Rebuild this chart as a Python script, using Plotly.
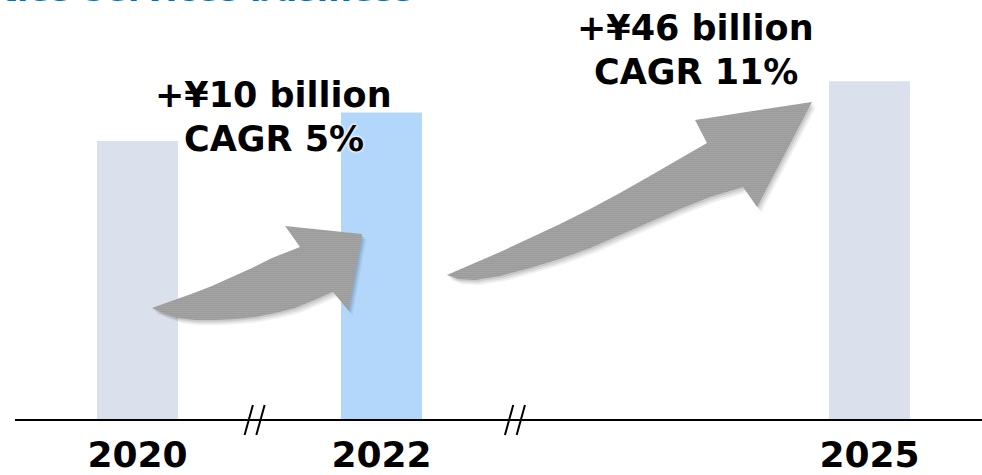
import plotly.graph_objects as go

# ---- data -------------------------------------------------------------
years = ["2020", "2022", "2025"]
slot = [0, 1, 3]                 # horizontal slot of each year (axis is broken)
revenue = [98, 108, 119]         # bar heights
bar_colors = ["#DAE1EC", "#B3D7FB", "#DAE1EC"]

growth_labels = [("+¥10 billion", "CAGR 5%"), ("+¥46 billion", "CAGR 11%")]

# curved arrow outlines (x in slots, y in bar units)
arrow1_x = [0.059, 0.141, 0.223, 0.305, 0.387, 0.469, 0.551, 0.666, 0.605, 0.920, 0.863,
            0.801, 0.727, 0.645, 0.564, 0.482, 0.400, 0.318, 0.236, 0.166, 0.104, 0.059]
arrow1_y = [39.3, 41.8, 44.3, 47.1, 50.2, 53.4, 56.9, 60.8, 68.1, 65.3, 38.6,
            45.0, 42.2, 39.3, 37.6, 36.2, 35.5, 35.1, 35.1, 35.8, 37.6, 39.3]
arrow2_x = [1.268, 1.363, 1.486, 1.609, 1.732, 1.855, 1.977, 2.100, 2.223, 2.334, 2.285, 2.764,
            2.539, 2.482, 2.346, 2.223, 2.100, 1.977, 1.855, 1.732, 1.609, 1.486, 1.383, 1.314, 1.268]
arrow2_y = [50.9, 54.4, 59.0, 63.9, 68.8, 74.1, 79.7, 85.7, 91.7, 97.3, 105.4, 111.7,
            74.8, 81.8, 78.3, 74.1, 69.5, 65.0, 60.4, 56.6, 53.4, 50.6, 49.2, 49.5, 50.9]

FONT = "DejaVu Sans"
X_RANGE = [-0.5635, 3.4611]
Y_RANGE = [-3.51, 147.5]

fig = go.Figure()

fig.add_trace(go.Bar(
    x=slot, y=revenue, width=0.332,
    marker=dict(color=bar_colors, line=dict(width=0)),
    hoverinfo="skip", showlegend=False,
))

# soft shadows, then the hatched arrows
for ax, ay in [(arrow1_x, arrow1_y), (arrow2_x, arrow2_y)]:
    for dx, dy, a in [(0.018, -1.8, 0.06), (0.012, -1.2, 0.08), (0.006, -0.6, 0.09)]:
        fig.add_trace(go.Scatter(
            x=[v + dx for v in ax], y=[v + dy for v in ay],
            mode="lines", fill="toself", line=dict(width=0),
            fillcolor=f"rgba(0,0,0,{a})", hoverinfo="skip", showlegend=False,
        ))
    fig.add_trace(go.Scatter(
        x=ax, y=ay, mode="lines", fill="toself", line=dict(width=0),
        fillcolor="#9a9a9a",
        fillpattern=dict(shape=".", size=2, solidity=0.6, fgcolor="#363636", bgcolor="#c4c4c4"),
        hoverinfo="skip", showlegend=False,
    ))

# baseline with break marks
shapes = [dict(type="line", xref="x", yref="y", x0=-0.502, x1=X_RANGE[1], y0=0, y1=0,
               line=dict(color="black", width=2))]
for bx in [0.48, 1.547]:
    for off in [-0.024, 0.024]:
        shapes.append(dict(type="line", xref="x", yref="paper",
                           x0=bx + off - 0.017, x1=bx + off + 0.017, y0=-0.0116, y1=0.0581,
                           line=dict(color="black", width=2)))

glow = "0 0 3px #ffffff, 0 0 3px #ffffff, 0 0 2px #ffffff"
label_font = dict(family=FONT, size=35, color="black", weight="bold", shadow=glow)
annotations = []
for (l1, l2), cx, y1, y2 in [(growth_labels[0], 0.559, 114.3, 98.8),
                             (growth_labels[1], 2.288, 137.8, 122.1)]:
    annotations.append(dict(x=cx, y=y1, xref="x", yref="y", text=l1, showarrow=False,
                            font=label_font, xanchor="center", yanchor="middle"))
    annotations.append(dict(x=cx, y=y2, xref="x", yref="y", text=l2, showarrow=False,
                            font=label_font, xanchor="center", yanchor="middle"))

# section heading at the top edge
annotations.append(dict(x=415 / 982, y=0.974, xref="paper", yref="paper",
                        text="Growth of Facilities Services business", showarrow=False,
                        xanchor="right", yanchor="bottom",
                        font=dict(family=FONT, size=33, color="#0070C0", weight="bold")))

fig.update_layout(
    width=982, height=475,
    margin=dict(l=0, r=0, t=0, b=45),
    paper_bgcolor="white", plot_bgcolor="white",
    xaxis=dict(range=X_RANGE, tickvals=slot, ticktext=years, showgrid=False,
               zeroline=False, showline=False, ticks="", automargin=False,
               tickfont=dict(family=FONT, size=36, color="black", weight="bold")),
    yaxis=dict(range=Y_RANGE, visible=False, automargin=False),
    shapes=shapes, annotations=annotations,
)

fig.write_html("out.html", config={"displayModeBar": False})
